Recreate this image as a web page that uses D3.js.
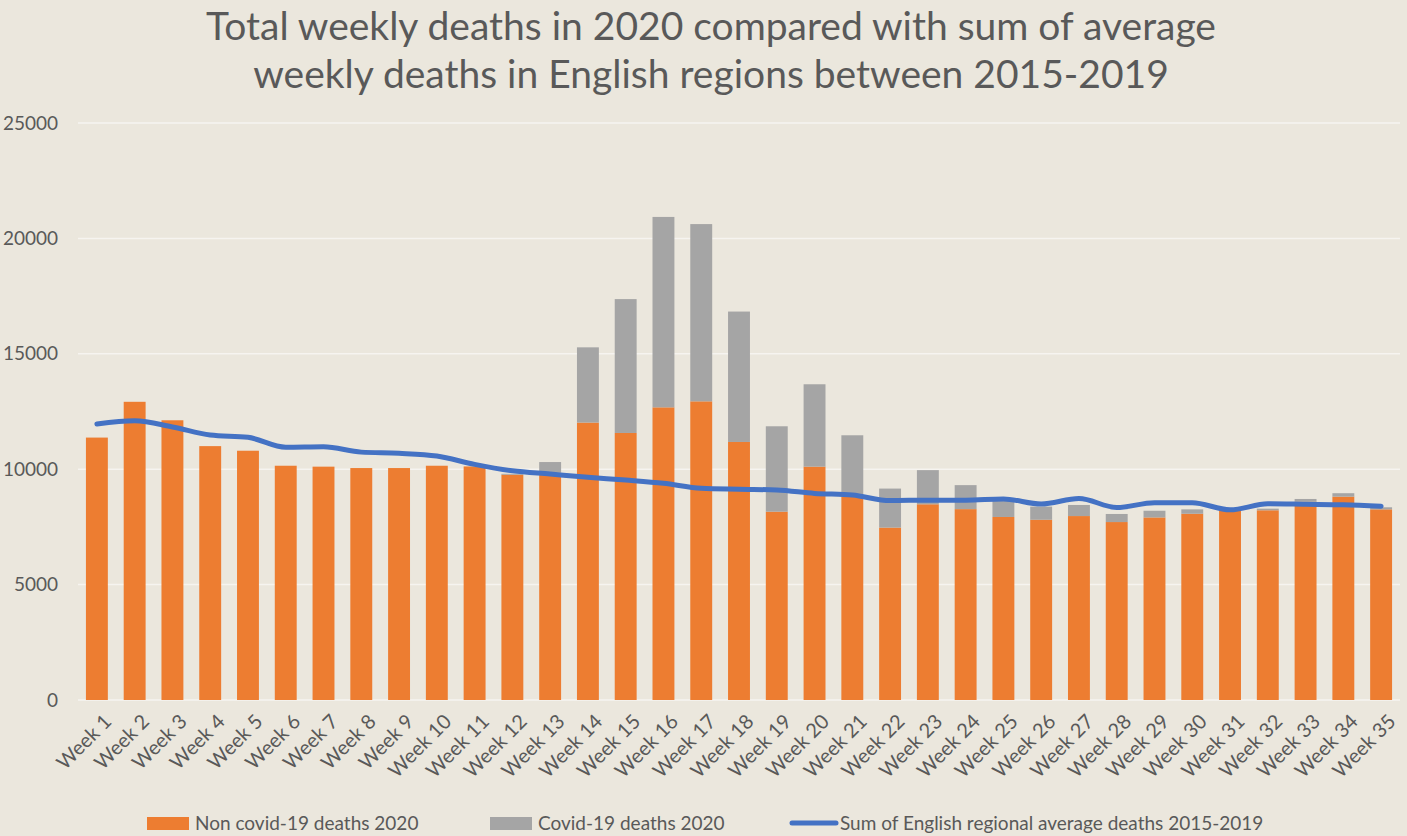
<!DOCTYPE html>
<html>
<head>
<meta charset="utf-8">
<script src="https://cdn.jsdelivr.net/npm/d3@7"></script>
<style>
  body { margin: 0; background: #ebe7dd; }
  svg { display: block; font-family: Lato, "Open Sans", sans-serif; }
</style>
</head>
<body>
<div id="chart"></div>
<script>
let weeks = d3.range(1, 36).map(function(i) { return "Week " + i; });

let nonCovid = [11370, 12920, 12120, 11000, 10800, 10150, 10110, 10050, 10050, 10150,
                10120, 9760, 9850, 12020, 11570, 12680, 12940, 11180, 8160, 10110,
                8800, 7470, 8480, 8270, 7930, 7810, 7970, 7710, 7910, 8070,
                8190, 8220, 8590, 8810, 8260];

let covid = [0, 0, 0, 0, 0, 0, 0, 0, 0, 0,
             0, 40, 460, 3260, 5800, 8250, 7680, 5650, 3700, 3570,
             2670, 1690, 1480, 1040, 720, 570, 480, 350, 290, 190,
             60, 70, 120, 150, 90];

let average = [11960, 12100, 11830, 11480, 11380, 10950, 10970, 10740, 10690, 10570,
               10210, 9930, 9790, 9650, 9530, 9390, 9170, 9130, 9100, 8950,
               8880, 8640, 8660, 8660, 8710, 8490, 8730, 8340, 8550, 8550,
               8240, 8500, 8480, 8460, 8400];

let yTicks = [0, 5000, 10000, 15000, 20000, 25000];

let titleLines = [
  "Total weekly deaths in 2020 compared with sum of average",
  "weekly deaths in English regions between 2015-2019"
];

let legendItems = [
  { label: "Non covid-19 deaths 2020", color: "#ed7d31", type: "rect" },
  { label: "Covid-19 deaths 2020", color: "#a5a5a5", type: "rect" },
  { label: "Sum of English regional average deaths 2015-2019", color: "#4472c4", type: "line" }
];

let width = 1407;
let height = 836;
let textColor = "#595959";

let svg = d3.select("#chart").append("svg")
  .attr("width", width)
  .attr("height", height);

svg.append("rect")
  .attr("width", width)
  .attr("height", height)
  .attr("fill", "#ebe7dd");

// title
svg.selectAll("text.title")
  .data(titleLines)
  .enter().append("text")
  .attr("class", "title")
  .attr("x", 711)
  .attr("y", function(d, i) { return 40 + i * 48; })
  .attr("text-anchor", "middle")
  .attr("font-size", 39)
  .attr("fill", textColor)
  .text(function(d) { return d; });

let x = d3.scaleBand()
  .domain(weeks)
  .range([78, 1400])
  .paddingInner(0.42)
  .paddingOuter(0.21);

let y = d3.scaleLinear()
  .domain([0, 25000])
  .range([700, 123]);

// gridlines
svg.append("g")
  .selectAll("line")
  .data(yTicks)
  .enter().append("line")
  .attr("x1", 78)
  .attr("x2", 1400)
  .attr("y1", function(d) { return y(d); })
  .attr("y2", function(d) { return y(d); })
  .attr("stroke", "#f6f4f0")
  .attr("stroke-width", 1.5);

// y axis labels
svg.append("g")
  .selectAll("text")
  .data(yTicks)
  .enter().append("text")
  .attr("x", 58)
  .attr("y", function(d) { return y(d); })
  .attr("dy", "0.35em")
  .attr("text-anchor", "end")
  .attr("font-size", 19)
  .attr("fill", textColor)
  .text(function(d) { return d; });

// stacked bars
let bars = svg.append("g");

bars.selectAll("rect.noncovid")
  .data(weeks)
  .enter().append("rect")
  .attr("class", "noncovid")
  .attr("x", function(d) { return x(d); })
  .attr("width", x.bandwidth())
  .attr("y", function(d, i) { return y(nonCovid[i]); })
  .attr("height", function(d, i) { return y(0) - y(nonCovid[i]); })
  .attr("fill", "#ed7d31");

bars.selectAll("rect.covid")
  .data(weeks)
  .enter().append("rect")
  .attr("class", "covid")
  .attr("x", function(d) { return x(d); })
  .attr("width", x.bandwidth())
  .attr("y", function(d, i) { return y(nonCovid[i] + covid[i]); })
  .attr("height", function(d, i) { return y(nonCovid[i]) - y(nonCovid[i] + covid[i]); })
  .attr("fill", "#a5a5a5");

// average line
let line = d3.line()
  .x(function(d, i) { return x(weeks[i]) + x.bandwidth() / 2; })
  .y(function(d) { return y(d); })
  .curve(d3.curveMonotoneX);

svg.append("path")
  .datum(average)
  .attr("d", line)
  .attr("fill", "none")
  .attr("stroke", "#4472c4")
  .attr("stroke-width", 5)
  .attr("stroke-linecap", "round")
  .attr("stroke-linejoin", "round");

// x axis labels, rotated
svg.append("g")
  .selectAll("text")
  .data(weeks)
  .enter().append("text")
  .attr("transform", function(d) {
    return "translate(" + (x(d) + x.bandwidth() / 2 + 6) + ",713) rotate(-45)";
  })
  .attr("text-anchor", "end")
  .attr("dy", "0.7em")
  .attr("font-size", 20)
  .attr("fill", textColor)
  .text(function(d) { return d; });

// legend
let legendX = [147, 490, 790];

let legend = svg.append("g")
  .selectAll("g")
  .data(legendItems)
  .enter().append("g")
  .attr("transform", function(d, i) { return "translate(" + legendX[i] + ",823)"; });

legend.filter(function(d) { return d.type === "rect"; })
  .append("rect")
  .attr("x", 0)
  .attr("y", -6)
  .attr("width", 42)
  .attr("height", 13)
  .attr("fill", function(d) { return d.color; });

legend.filter(function(d) { return d.type === "line"; })
  .append("line")
  .attr("x1", 2)
  .attr("x2", 46)
  .attr("y1", 0)
  .attr("y2", 0)
  .attr("stroke", function(d) { return d.color; })
  .attr("stroke-width", 5)
  .attr("stroke-linecap", "round");

legend.append("text")
  .attr("x", function(d) { return d.type === "line" ? 50 : 48; })
  .attr("y", 0)
  .attr("dy", "0.35em")
  .attr("font-size", 19)
  .attr("fill", textColor)
  .text(function(d) { return d.label; });
</script>
</body>
</html>
